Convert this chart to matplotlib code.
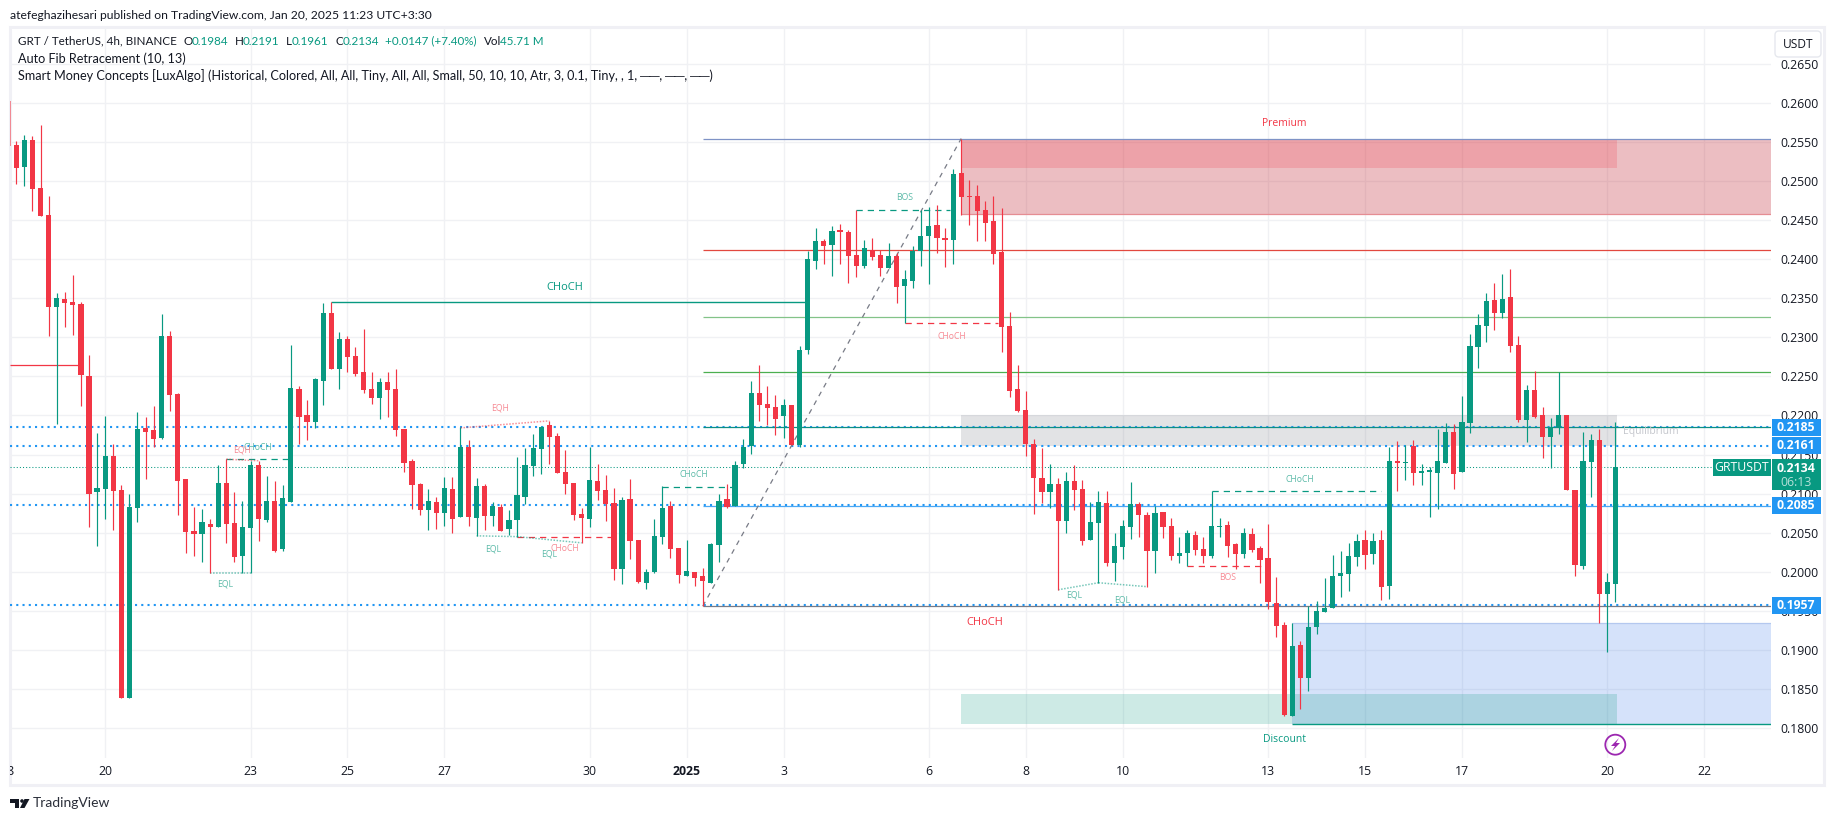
import matplotlib

matplotlib.use('Agg')

import numpy as np
import matplotlib.pyplot as plt
from matplotlib.patches import Rectangle, Polygon, Circle, FancyBboxPatch
from matplotlib.transforms import Affine2D, Bbox

W, H = 1835, 821

# GRT/USDT 4h candles (first one is cut by the left edge)
opens = [.2602, .2546, .2518, .2552, .2491, .2456, .2339, .2349, .2345, .2342,
         .2250, .2102, .2106, .2148, .2105, .1839, .2082, .2184, .2181, .2171,
         .2302, .2227, .2119, .2052, .2048, .2061, .2057, .2114, .2062, .2020,
         .2056, .2137, .2066, .2091, .2029, .2089, .2234, .2201, .2192, .2244,
         .2331, .2259, .2298, .2276, .2255, .2234, .2222, .2243, .2234, .2183,
         .2142, .2112, .2079, .2089, .2075, .2106, .2070, .2160, .2069, .2110,
         .2071, .2083, .2055, .2066, .2096, .2135, .2157, .2188, .2174, .2128,
         .2114, .2074, .2068, .2116, .2105, .2088, .2003, .2093, .2041, .1986,
         .2000, .2045, .2084, .2031, .1995, .2000, .1994, .1986, .2034, .2093,
         .2084, .2138, .2161, .2229, .2215, .2211, .2199, .2213, .2162, .2283,
         .2398, .2423, .2418, .2436, .2435, .2405, .2391, .2412, .2405, .2389,
         .2404, .2366, .2372, .2410, .2430, .2444, .2427, .2424, .2510, .2481,
         .2481, .2463, .2449, .2409, .2314, .2234, .2207, .2163, .2120, .2102,
         .2112, .2065, .2116, .2106, .2041, .2063, .2088, .2011, .2032, .2057,
         .2087, .2073, .2027, .2076, .2059, .2020, .2024, .2047, .2029, .2020,
         .2057, .2060, .2036, .2023, .2048, .2031, .2018, .1960, .1932, .1816,
         .1907, .1864, .1930, .1949, .1954, .1995, .1997, .2019, .2041, .2023,
         .2041, .1982, .2142, .2139, .2161, .2126, .2128, .2126, .2139, .2179,
         .2127, .2190, .2288, .2314, .2348, .2331, .2351, .2290, .2194, .2233,
         .2201, .2173, .2185, .2201, .2105, .2008, .2141, .2169, .1972, .1984]
highs = [.2602, .2551, .2559, .2557, .2571, .2481, .2357, .2358, .2380, .2345,
         .2277, .2178, .2199, .2163, .2111, .2099, .2204, .2198, .2212, .2330,
         .2308, .2229, .2119, .2083, .2080, .2068, .2137, .2144, .2102, .2091,
         .2142, .2142, .2123, .2116, .2111, .2290, .2238, .2220, .2248, .2344,
         .2345, .2307, .2302, .2287, .2310, .2255, .2248, .2255, .2259, .2183,
         .2144, .2113, .2106, .2096, .2121, .2121, .2185, .2169, .2120, .2112,
         .2089, .2087, .2079, .2147, .2158, .2176, .2186, .2193, .2177, .2156,
         .2114, .2082, .2160, .2138, .2124, .2107, .2096, .2119, .2041, .2004,
         .2068, .2110, .2091, .2031, .2041, .2000, .2005, .2037, .2099, .2112,
         .2142, .2170, .2244, .2264, .2238, .2226, .2221, .2213, .2289, .2410,
         .2440, .2426, .2442, .2445, .2437, .2463, .2424, .2427, .2412, .2421,
         .2408, .2386, .2417, .2463, .2467, .2469, .2440, .2515, .2554, .2501,
         .2495, .2474, .2481, .2465, .2332, .2264, .2231, .2170, .2158, .2138,
         .2120, .2128, .2137, .2117, .2089, .2103, .2103, .2050, .2066, .2115,
         .2089, .2076, .2084, .2076, .2069, .2045, .2053, .2052, .2045, .2103,
         .2069, .2065, .2037, .2056, .2056, .2033, .2061, .1993, .1936, .1935,
         .1911, .1956, .1963, .1992, .2022, .2027, .2037, .2048, .2053, .2050,
         .2053, .2160, .2167, .2162, .2169, .2138, .2134, .2183, .2190, .2189,
         .2225, .2304, .2330, .2357, .2369, .2381, .2387, .2302, .2239, .2257,
         .2211, .2197, .2256, .2201, .2105, .2179, .2176, .2183, .1999, .2191]
lows = [.2544, .2496, .2493, .2462, .2455, .2301, .2189, .2313, .2303, .2212,
        .2057, .2033, .2068, .2054, .1839, .1839, .2064, .2119, .2160, .2170,
        .2206, .2073, .2024, .2020, .2012, .1998, .2057, .2037, .2012, .1998,
        .1998, .2039, .2064, .2025, .2027, .2089, .2163, .2169, .2184, .2213,
        .2259, .2234, .2256, .2250, .2229, .2215, .2196, .2198, .2174, .2128,
        .2080, .2073, .2054, .2055, .2059, .2050, .2070, .2059, .2046, .2053,
        .2059, .2052, .2047, .2045, .2087, .2123, .2125, .2138, .2126, .2100,
        .2066, .2037, .2057, .2092, .2065, .1990, .1985, .2017, .1986, .1978,
        .1999, .2036, .2018, .1986, .1994, .1982, .1956, .1986, .2013, .2082,
        .2084, .2133, .2151, .2193, .2188, .2175, .2171, .2162, .2160, .2279,
        .2387, .2394, .2378, .2394, .2369, .2377, .2389, .2399, .2378, .2389,
        .2344, .2318, .2363, .2391, .2368, .2408, .2390, .2394, .2456, .2444,
        .2423, .2423, .2394, .2281, .2224, .2204, .2148, .2074, .2088, .2082,
        .1977, .2050, .2079, .2034, .2041, .1986, .2008, .1988, .2016, .2042,
        .2045, .1981, .1999, .2043, .2015, .2011, .2007, .2022, .2011, .2018,
        .2045, .2019, .2004, .2018, .2025, .1986, .1953, .1917, .1816, .1816,
        .1825, .1848, .1921, .1949, .1954, .1968, .1976, .2007, .2004, .2010,
        .1964, .1965, .2103, .2118, .2111, .2111, .2070, .2080, .2139, .2106,
        .2127, .2178, .2261, .2294, .2309, .2325, .2281, .2192, .2166, .2197,
        .2146, .2133, .2176, .2104, .1994, .2004, .2096, .1935, .1898, .1961]
closes = [.2544, .2517, .2552, .2490, .2455, .2339, .2350, .2344, .2341, .2252,
          .2100, .2107, .2148, .2103, .1839, .2083, .2183, .2179, .2170, .2302,
          .2226, .2116, .2051, .2048, .2064, .2057, .2114, .2061, .2019, .2057,
          .2137, .2068, .2091, .2027, .2095, .2235, .2198, .2192, .2247, .2331,
          .2259, .2298, .2275, .2253, .2232, .2222, .2243, .2232, .2181, .2139,
          .2111, .2079, .2091, .2075, .2107, .2068, .2160, .2070, .2110, .2071,
          .2084, .2052, .2066, .2098, .2137, .2158, .2185, .2172, .2126, .2112,
          .2073, .2069, .2117, .2103, .2087, .2004, .2092, .2040, .1987, .2000,
          .2046, .2082, .2029, .1996, .2001, .1992, .1988, .2036, .2091, .2083,
          .2137, .2160, .2229, .2213, .2209, .2195, .2213, .2162, .2284, .2400,
          .2423, .2417, .2436, .2435, .2404, .2391, .2414, .2403, .2389, .2404,
          .2364, .2374, .2410, .2430, .2442, .2427, .2424, .2509, .2479, .2479,
          .2461, .2446, .2406, .2313, .2231, .2206, .2163, .2120, .2102, .2112,
          .2065, .2116, .2105, .2039, .2064, .2089, .2011, .2033, .2059, .2087,
          .2072, .2027, .2075, .2057, .2020, .2024, .2050, .2028, .2020, .2059,
          .2059, .2033, .2023, .2050, .2028, .2015, .1961, .1931, .1817, .1905,
          .1864, .1930, .1950, .1954, .1995, .1999, .2020, .2039, .2022, .2039,
          .1981, .2142, .2139, .2139, .2126, .2129, .2129, .2142, .2179, .2125,
          .2192, .2289, .2316, .2346, .2331, .2349, .2289, .2194, .2233, .2198,
          .2173, .2185, .2201, .2104, .2009, .2142, .2169, .1972, .1987, .2134]
bars = np.arange(-1, len(opens) - 1)

price_ticks = [.18, .185, .19, .195, .2, .205, .21, .215, .22, .225, .23, .235, .24,
               .245, .25, .255, .26, .265]
date_bars = [11, 29, 41, 53, 71, 83, 95, 113, 125, 137, 155, 167, 179, 197, 209]
date_labels = ['20', '23', '25', '27', '30', '2025', '3', '6', '8', '10', '13', '15', '17',
               '20', '22']

fib_levels = [.2554, .2412, .2326, .2255, .2185, .2084, .1956]
fib_colors = ['#7f93c6', '#e2483f', '#83c388', '#4caf50', '#0d8f85', '#4aa8f5', '#787b86']
alert_levels = [.2185, .2161, .2085, .1957]
last_price = .2134

GREEN = '#089981'
RED = '#f23645'
BLUE = '#2196f3'
TEXT = '#131722'

plt.rcParams['font.family'] = ['Open Sans', 'DejaVu Sans']
HEAD = ['Lato', 'DejaVu Sans']

fig = plt.figure(figsize=(W / 100, H / 100), dpi=100, facecolor='white')
pix = Affine2D().scale(1, -1).translate(0, H)  # figure text placed in image pixels

left, right, top, bottom = 10, 1771, 28, 758
ax = fig.add_axes([left / W, 1 - bottom / H, (right - left) / W, (bottom - top) / H])
ax.patch.set_visible(False)
ax.set_xlim((left - 16.3) / 8.076, (right - 16.3) / 8.076)
ax.set_ylim(.265 - (bottom - 63.5) / 7820, .265 - (top - 63.5) / 7820)
xmax = ax.get_xlim()[1]
for s in ax.spines.values():
    s.set_visible(False)

ax.yaxis.tick_right()
ax.set_yticks(price_ticks)
ax.set_yticklabels(['%.4f' % p for p in price_ticks], fontsize=8.8, color=TEXT)
ax.set_xticks(date_bars)
ax.set_xticklabels(date_labels, fontsize=8.8, color=TEXT)
ax.get_xticklabels()[5].set_fontweight('bold')
ax.tick_params(axis='y', length=0, pad=6.5)
ax.tick_params(axis='x', length=0, pad=5)
ax.set_axisbelow(True)
ax.grid(True, color='#f0f1f4', linewidth=1.0)

# zones
ax.add_patch(Rectangle((117, .2457), xmax - 117, .2554 - .2457, fc='#c0202e', alpha=.29, lw=0, zorder=1))
ax.add_patch(Rectangle((117, .2516), 198.15 - 117, .2554 - .2516, fc=RED, alpha=.2, lw=0, zorder=1))
ax.add_patch(Rectangle((117, .2161), 198.15 - 117, .2200 - .2161, fc='#787b86', alpha=.21, lw=0, zorder=1))
ax.add_patch(Rectangle((158, .1806), xmax - 158, .1935 - .1806, fc='#2f70e6', alpha=.2, lw=0, zorder=1))
ax.add_patch(Rectangle((117, .1806), 198.15 - 117, .1844 - .1806, fc=GREEN, alpha=.2, lw=0, zorder=1.1))
ax.hlines(.2457, 117, xmax, color='#e58d93', lw=.9, zorder=1.5)
ax.hlines(.1935, 158, xmax, color='#b4c8ef', lw=.9, zorder=1.5)
ax.hlines(.1806, 158, xmax, color=GREEN, lw=1.0, zorder=1.5)

# alert and last price lines
ax.hlines(alert_levels, ax.get_xlim()[0], xmax, color=BLUE, lw=1.5, linestyles=[(0, (1, 2))], zorder=2)
ax.hlines(last_price, ax.get_xlim()[0], xmax, color=GREEN, lw=.75, linestyles=[(0, (1, 2))], zorder=2)

# auto fib
ax.hlines(fib_levels, 85, xmax, colors=fib_colors, lw=.9, zorder=2.2)
ax.plot([85, 117], [.1956, .2554], color='#787b86', lw=.9, ls=(0, (4, 4)), zorder=2.2)

# structure lines
ax.hlines(.2265, ax.get_xlim()[0], 8, color=RED, lw=.9, zorder=2.3)
ax.hlines(.2345, 39, 98, color=GREEN, lw=1.0, zorder=2.3)
dash = (0, (5, 4))
for b0, b1, p, c in [(26, 33.6, .2144, GREEN), (62, 73.6, .2045, RED), (80, 88.7, .2109, GREEN),
                     (104, 115.6, .2463, GREEN), (110, 121.6, .2318, RED),
                     (145, 154.5, .2007, RED), (148, 169, .2103, GREEN)]:
    ax.plot([b0, b1], [p, p], color=c, lw=.9, ls=dash, zorder=2.3)
for b0, p0, b1, p1, c in [(26, .2144, 30, .2142, RED), (24, .1998, 29, .1998, GREEN),
                          (55, .2184, 66, .2193, RED), (57, .2046, 62, .2045, GREEN),
                          (62, .2045, 70, .2037, GREEN), (129, .1977, 134, .1986, GREEN),
                          (134, .1986, 140, .1981, GREEN)]:
    ax.plot([b0, b1], [p0, p1], color=c, lw=1.1, ls=(0, (1, 1)), alpha=.55, zorder=2.3)

# candles
o, h, l, c = map(np.array, (opens, highs, lows, closes))
colors = np.where(c >= o, GREEN, RED)
ax.vlines(bars, l, h, colors=colors, lw=.85, zorder=3)
body = np.maximum(np.abs(c - o), .0002)
ax.bar(bars, body, bottom=np.minimum(o, c), width=5.2 / 8.076, color=colors, lw=0, zorder=3)
ax.patches[-len(bars)].set_alpha(.55)

# chart frame
fig.add_artist(Rectangle((10, 27), 1814, 758, transform=pix, fill=False, ec='#f0f0f5', lw=2.2, zorder=-1))


def label(x, y, s, color=TEXT, size=6, **kw):
    kw.setdefault('ha', 'center')
    return fig.text(x, y, s, transform=pix, color=color, fontsize=size, va='center', zorder=6, **kw)


# pattern labels
pale_green = '#5cbaa8'
pale_red = '#f78a94'
label(565, 287, 'CHoCH', GREEN, 8)
label(985, 622, 'CHoCH', RED, 8)
label(1284, 123, 'Premium', RED, 7.5)
label(1284, 739, 'Discount', GREEN, 7.5)
label(1651, 431, 'Equilibrium', '#c4c6cc', 7.5)
for x, y, s in [(258, 447, 'CHoCH'), (694, 474, 'CHoCH'), (905, 197, 'BOS'), (1300, 479, 'CHoCH'),
                (225, 584, 'EQL'), (493, 549, 'EQL'), (549, 554, 'EQL'), (1074, 595, 'EQL'),
                (1122, 600, 'EQL')]:
    label(x, y, s, pale_green, 6.2)
for x, y, s in [(242, 450, 'EQH'), (500, 408, 'EQH'), (565, 548, 'CHoCH'), (952, 336, 'CHoCH'),
                (1228, 577, 'BOS')]:
    label(x, y, s, pale_red, 6.2)

# header and legend
label(10, 15, 'atefeghazihesari published on TradingView.com, Jan 20, 2025 11:23 UTC+3:30', TEXT, 8.7,
      ha='left', family=HEAD)
label(18, 41, 'GRT / TetherUS, 4h, BINANCE', TEXT, 8.4, ha='left', family=HEAD)
for x, s, col in [(184, 'O', TEXT), (192, '0.1984', GREEN), (235, 'H', TEXT), (243, '0.2191', GREEN),
                  (286, 'L', TEXT), (292, '0.1961', GREEN), (335, 'C', TEXT), (343, '0.2134', GREEN),
                  (385, '+0.0147 (+7.40%)', GREEN), (484, 'Vol', TEXT), (500, '45.71 M', GREEN)]:
    label(x, 41, s, col, 8.4, ha='left', family=HEAD)
label(18, 59, 'Auto Fib Retracement (10, 13)', TEXT, 9.1, ha='left', family=HEAD)
label(18, 76, 'Smart Money Concepts [LuxAlgo] (Historical, Colored, All, All, Tiny, All, All, Small, '
              '50, 10, 10, Atr, 3, 0.1, Tiny, , 1, ──, ──, ──)', TEXT, 9.1, ha='left', family=HEAD)

# clipped 18 tick at the left edge
t = label(8.2, 771, '18', TEXT, 8.8)
t.set_clip_box(Bbox([[10, 0], [60, H]]))
t.set_clip_on(True)

# USDT button, it hides the top of the 0.2650 label
fig.add_artist(Rectangle((1772, 29), 51, 31, transform=pix, fc='white', lw=0, zorder=4))
fig.add_artist(FancyBboxPatch((1778, 34), 40, 20, boxstyle='round,pad=3,rounding_size=4', transform=pix,
                              fc='white', ec='#e6e8ee', lw=1.0, zorder=5))
label(1798, 44, 'USDT', TEXT, 8.6)

# price tags
for p in alert_levels:
    y = 63.5 + (.265 - p) * 7820
    fig.add_artist(Rectangle((1772, y - 8.5), 49, 17, transform=pix, fc=BLUE, lw=0, zorder=5))
    label(1796, y, '%.4f' % p, 'white', 8.8, weight='bold')
fig.add_artist(Rectangle((1772, 459), 49, 31, transform=pix, fc=GREEN, lw=0, zorder=5))
label(1796, 468, '0.2134', 'white', 8.8, weight='bold')
label(1796, 482, '06:13', '#b5e0d8', 8.8)
fig.add_artist(Rectangle((1713, 459), 58, 17, transform=pix, fc=GREEN, lw=0, zorder=5))
label(1742, 467.5, 'GRTUSDT', 'white', 8.8)

# bolt icon
fig.add_artist(Circle((1615.3, 744.7), 10, transform=pix, fill=False, ec='#9c27b0', lw=1.3, zorder=5))
fig.add_artist(Polygon([(1619, 738), (1611, 746), (1615, 746), (1612, 751), (1620, 743), (1616, 743)],
                       transform=pix, fc='#9c27b0', lw=0, zorder=5))

# TradingView logo
for pts in [[(10, 799), (19, 799), (19, 808), (14.5, 808), (14.5, 803), (10, 803)],
            [(24.5, 799), (29.5, 799), (24.5, 808), (20, 808)]]:
    fig.add_artist(Polygon(pts, transform=pix, fc=TEXT, lw=0, zorder=5))
fig.add_artist(Circle((22, 801), 1.8, transform=pix, fc=TEXT, lw=0, zorder=5))
label(33, 803, 'TradingView', '#2a2e39', 10, ha='left', family=HEAD)

fig.savefig('out.png', dpi=100)
